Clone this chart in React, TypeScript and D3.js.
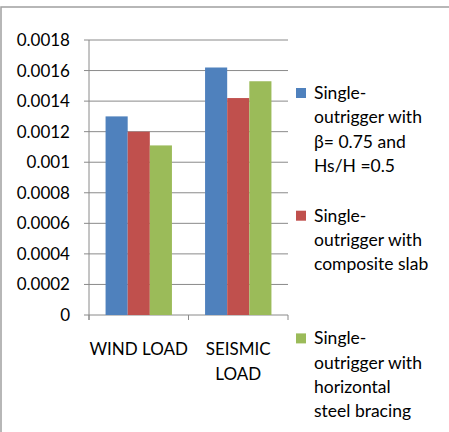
import React from 'react';
import * as d3 from 'd3';

const categories = [['WIND LOAD'], ['SEISMIC', 'LOAD']];
const seriesNames = ['beta', 'composite', 'bracing'];
const seriesValues = [
    [0.0013, 0.00162],
    [0.0012, 0.00142],
    [0.00111, 0.00153],
];
const seriesColors = ['#4F81BD', '#C0504D', '#9BBB59'];
const legendLines = [
    ['Single-', 'outrigger with', 'β= 0.75 and', 'Hs/H =0.5'],
    ['Single-', 'outrigger with', 'composite slab'],
    ['Single-', 'outrigger with', 'horizontal', 'steel bracing'],
];
const yTicks = [0, 0.0002, 0.0004, 0.0006, 0.0008, 0.001, 0.0012, 0.0014, 0.0016, 0.0018];

const W = 449;
const H = 432;
const plot = { left: 89, right: 288, top: 40, bottom: 315 };
const FONT = 'Lato, "Open Sans", sans-serif';
const GRID = '#8a8a8a';

const App = () => {
    // Kategori dan seri
    const x0 = d3.scaleBand<number>()
        .domain(categories.map((_, i) => i))
        .range([plot.left, plot.right])
        .paddingInner(0.333)
        .paddingOuter(0.1665);
    const catStep = (plot.right - plot.left) / categories.length;
    const x1 = d3.scaleBand<string>()
        .domain(seriesNames)
        .range([0, x0.bandwidth()]);
    const y = d3.scaleLinear().domain([0, 0.0018]).range([plot.bottom, plot.top]);

    const fmt = (v: number) => String(+v.toFixed(4));

    return (
        <svg width={W} height={H} style={{ position: 'absolute', left: 0, top: 0, background: '#fff' }}
            fontFamily={FONT}>
            <rect x={1} y={7} width={W + 10} height={H + 10} fill="#fff" stroke="#a0a0a0" strokeWidth={1.5} />

            {/* garis grid dan label sumbu Y */}
            {yTicks.map(t => (
                <g key={t}>
                    <line x1={plot.left - 5} x2={plot.right} y1={y(t)} y2={y(t)} stroke={GRID} strokeWidth={1} />
                    <text x={70} y={y(t)} dy="0.35em" textAnchor="end" fontSize={17} fill="#000">{fmt(t)}</text>
                </g>
            ))}
            <line x1={plot.left} x2={plot.left} y1={plot.top} y2={plot.bottom + 5} stroke={GRID} />
            {d3.range(categories.length + 1).map(i => (
                <line key={i} x1={plot.left + i * catStep} x2={plot.left + i * catStep}
                    y1={plot.bottom} y2={plot.bottom + 5} stroke={GRID} />
            ))}

            {/* batang */}
            {seriesNames.map((s, si) => (
                <g key={s}>
                    {seriesValues[si].map((v, ci) => (
                        <rect key={ci} x={(x0(ci) ?? 0) + (x1(s) ?? 0)} y={y(v)}
                            width={x1.bandwidth()} height={y(0) - y(v)} fill={seriesColors[si]} />
                    ))}
                </g>
            ))}

            {/* label kategori */}
            {categories.map((lines, ci) => (
                <text key={ci} x={plot.left + (ci + 0.5) * catStep} y={355} textAnchor="middle" fontSize={17} fill="#000">
                    {lines.map((l, li) => (
                        <tspan key={li} x={plot.left + (ci + 0.5) * catStep} dy={li === 0 ? 0 : 25}>{l}</tspan>
                    ))}
                </text>
            ))}

            {/* legenda */}
            {legendLines.map((lines, si) => {
                const top = 88 + si * 122.7;
                return (
                    <g key={si}>
                        <rect x={296} y={top} width={10} height={10} fill={seriesColors[si]} />
                        <text x={314} y={top + 11} fontSize={17.5} fill="#000">
                            {lines.map((l, li) => (
                                <tspan key={li} x={314} dy={li === 0 ? 0 : 24.3}>{l}</tspan>
                            ))}
                        </text>
                    </g>
                );
            })}
        </svg>
    );
};

export default App;
